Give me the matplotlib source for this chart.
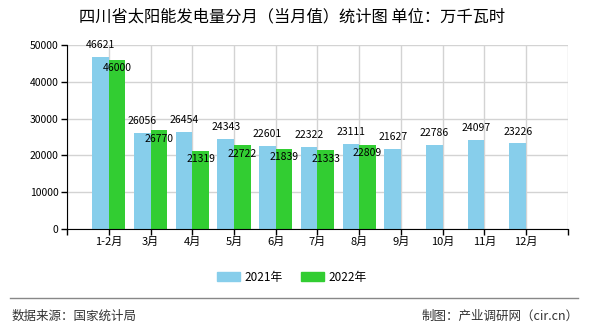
import matplotlib
matplotlib.use('Agg')
import matplotlib.pyplot as plt
from matplotlib.lines import Line2D
import numpy as np

plt.rcParams['font.family'] = ['Noto Sans CJK SC', 'DejaVu Sans']
plt.rcParams['axes.unicode_minus'] = False

# 数据
months = ['1-2月', '3月', '4月', '5月', '6月', '7月', '8月', '9月', '10月', '11月', '12月']
vals_2021 = [46621, 26056, 26454, 24343, 22601, 22322, 23111, 21627, 22786, 24097, 23226]
vals_2022 = [46000, 26770, 21319, 22722, 21839, 21333, 22809]
yticks = [0, 10000, 20000, 30000, 40000, 50000]

c21 = '#87ceeb'
c22 = '#32cd32'

fig = plt.figure(figsize=(5.9, 3.3), dpi=100)
ax = fig.add_axes([0.1136, 0.306, 0.849, 0.558])

x = np.arange(len(months))
w = 0.4
x22 = x[:len(vals_2022)]
ax.bar(x - w / 2, vals_2021, w, color=c21, zorder=2)
ax.bar(x22 + w / 2, vals_2022, w, color=c22, zorder=2)

# 数值标签
for xi, v in zip(x, vals_2021):
    ax.annotate(str(v), xy=(xi - w / 2, v), xytext=(0, 5), textcoords='offset points',
                ha='center', va='bottom', fontsize=7.5, zorder=3)
for xi, v in zip(x22, vals_2022):
    ax.annotate(str(v), xy=(xi + w / 2, v), xytext=(0, -2.5), textcoords='offset points',
                ha='center', va='top', fontsize=7.5, zorder=3)

ax.set_xlim(-1, len(months))
ax.set_ylim(0, 50000)
ax.set_yticks(yticks)
ax.set_yticklabels([str(t) for t in yticks], fontsize=7.5)
ax.set_xticks(np.arange(-1, len(months) + 1))
ax.set_xticklabels([''] + months + [''], fontsize=8)
ax.tick_params(axis='both', length=4, width=1, color='black', pad=2)
ax.grid(True, color='#d3d3d3', linewidth=1, zorder=0)
ax.spines['top'].set_visible(False)
ax.spines['right'].set_visible(False)
ax.spines['left'].set_color('black')
ax.spines['bottom'].set_color('black')

fig.text(0.495, 0.948, '四川省太阳能发电量分月（当月值）统计图 单位：万千瓦时',
         ha='center', va='center', fontsize=11.7)

handles = [plt.Rectangle((0, 0), 1, 1, color=c21), plt.Rectangle((0, 0), 1, 1, color=c22)]
fig.legend(handles, ['2021年', '2022年'], loc='center', bbox_to_anchor=(0.495, 0.16),
           ncol=2, frameon=False, fontsize=8.5, handlelength=1.9, handleheight=0.8,
           columnspacing=1.6, handletextpad=0.4)

fig.add_artist(Line2D([0.017, 0.98], [0.097, 0.097], color='#888888', linewidth=1))
fig.text(0.019, 0.042, '数据来源：国家统计局', ha='left', va='center', fontsize=9, color='#333333')
fig.text(0.98, 0.042, '制图：产业调研网（cir.cn）', ha='right', va='center', fontsize=9, color='#333333')

fig.savefig('out.png', dpi=100)
